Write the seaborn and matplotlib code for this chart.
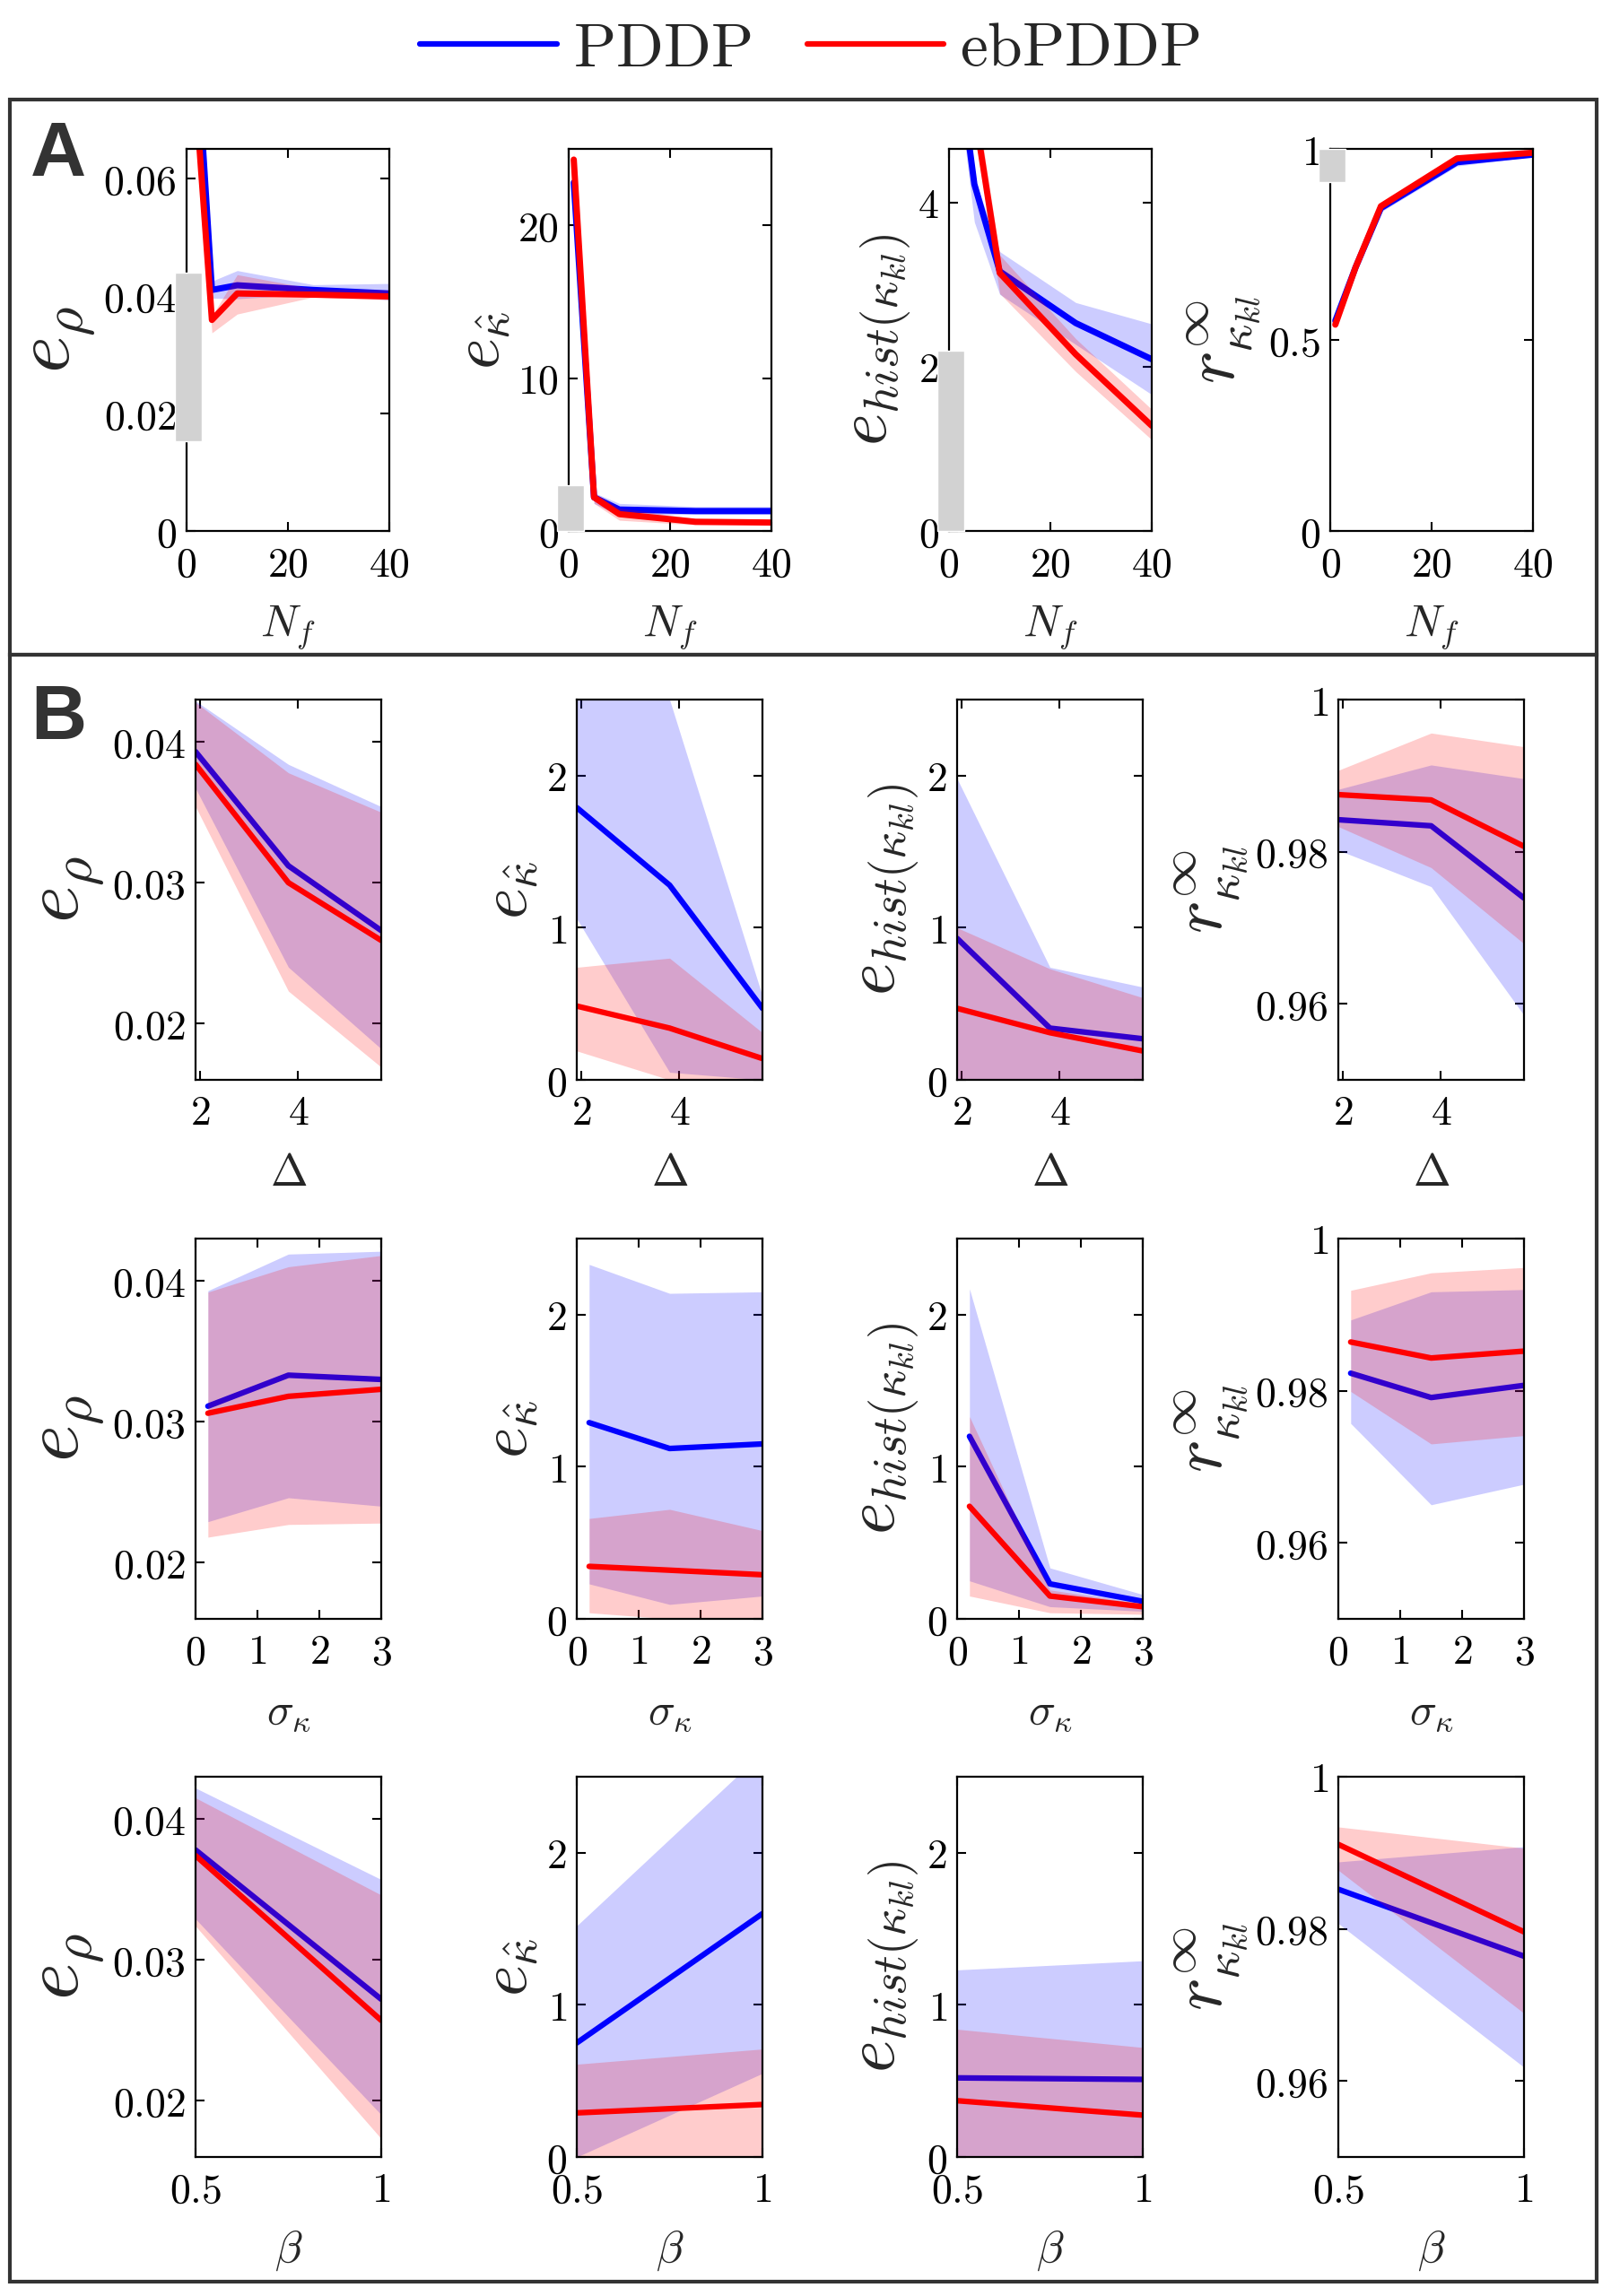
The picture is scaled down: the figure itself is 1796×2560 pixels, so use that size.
import matplotlib
matplotlib.use("Agg")
import matplotlib.pyplot as plt
from matplotlib.lines import Line2D
from matplotlib.patches import Rectangle
import seaborn as sns

# ---------------- data ----------------
NF = [1, 5, 10, 25, 40]
DELTA = [1.9, 3.8, 5.7]
SIGMA = [0.2, 1.5, 3.0]
BETA = [0.5, 1.0]

# row A, one list per column: e_rho, e_kappa_hat, e_hist, r
A_PDDP = [[0.096, 0.041, 0.0418, 0.041, 0.0404],
          [22.8, 2.2, 1.4, 1.3, 1.3],
          [6.1, 4.22, 3.16, 2.53, 2.09],
          [0.55, 0.69, 0.845, 0.965, 0.985]]
A_PDDP_LO = [[0.094, 0.0396, 0.0395, 0.0403, 0.0393],
             [22.3, 1.8, 1.0, 1.1, 1.1],
             [5.8, 3.76, 2.88, 2.27, 1.66],
             [0.54, 0.68, 0.835, 0.955, 0.98]]
A_PDDP_HI = [[0.098, 0.0425, 0.0443, 0.0419, 0.0421],
             [23.3, 2.5, 1.8, 1.6, 1.6],
             [6.4, 4.3, 3.40, 2.78, 2.52],
             [0.56, 0.70, 0.855, 0.975, 0.99]]
A_EB = [[0.0836, 0.0359, 0.0404, 0.0402, 0.0399],
        [24.3, 2.2, 1.1, 0.6, 0.55],
        [8.0, 5.12, 3.14, 2.15, 1.28],
        [0.54, 0.69, 0.85, 0.975, 0.99]]
A_EB_LO = [[0.081, 0.0337, 0.0369, 0.0398, 0.0393],
           [23.8, 1.8, 0.7, 0.4, 0.4],
           [7.6, 4.9, 2.89, 1.94, 1.11],
           [0.53, 0.68, 0.84, 0.97, 0.985]]
A_EB_HI = [[0.086, 0.0366, 0.0436, 0.0412, 0.0410],
           [24.8, 2.5, 1.5, 0.8, 0.7],
           [8.4, 5.4, 3.36, 2.34, 1.48],
           [0.55, 0.70, 0.86, 0.98, 0.995]]
# grey reference bars near N_f = 0 (bottom, top)
A_GREY = [(0.0152, 0.044), (0.0, 3.0), (0.0, 2.19), (0.914, 1.0)]

# row B1: Delta
B1_PDDP = [[0.0393, 0.0312, 0.0266], [1.79, 1.28, 0.47],
           [0.93, 0.34, 0.27], [0.9842, 0.9834, 0.9739]]
B1_PDDP_LO = [[0.0367, 0.0240, 0.0182], [1.06, 0.05, 0.0],
              [0.0, 0.0, 0.0], [0.9802, 0.9754, 0.9585]]
B1_PDDP_HI = [[0.0429, 0.0384, 0.0354], [2.9, 2.5, 0.55],
              [1.98, 0.74, 0.61], [0.9882, 0.9914, 0.9896]]
B1_EB = [[0.0384, 0.0300, 0.0259], [0.485, 0.34, 0.14],
         [0.47, 0.31, 0.19], [0.9875, 0.9868, 0.9807]]
B1_EB_LO = [[0.0354, 0.0223, 0.0169], [0.19, 0.0, 0.0],
            [0.0, 0.0, 0.0], [0.9833, 0.9779, 0.9679]]
B1_EB_HI = [[0.0428, 0.0378, 0.0350], [0.74, 0.80, 0.31],
            [1.0, 0.73, 0.54], [0.9907, 0.9956, 0.9938]]

# row B2: sigma_kappa
B2_PDDP = [[0.0311, 0.0333, 0.0330], [1.29, 1.12, 1.15],
           [1.20, 0.23, 0.115], [0.9823, 0.9791, 0.9807]]
B2_PDDP_LO = [[0.0229, 0.0246, 0.0240], [0.23, 0.095, 0.15],
              [0.25, 0.08, 0.05], [0.9757, 0.9650, 0.9677]]
B2_PDDP_HI = [[0.0393, 0.0419, 0.0421], [2.33, 2.14, 2.15],
              [2.17, 0.335, 0.16], [0.9893, 0.9930, 0.9933]]
B2_EB = [[0.0306, 0.0318, 0.0323], [0.345, 0.32, 0.29],
         [0.74, 0.15, 0.08], [0.9864, 0.9843, 0.9852]]
B2_EB_LO = [[0.0218, 0.0227, 0.0228], [0.04, 0.0, 0.0],
            [0.15, 0.04, 0.03], [0.9799, 0.9730, 0.9741]]
B2_EB_HI = [[0.0392, 0.0410, 0.0418], [0.66, 0.72, 0.58],
            [1.33, 0.19, 0.10], [0.9932, 0.9955, 0.9962]]

# row B3: beta
B3_PDDP = [[0.0378, 0.0272], [0.75, 1.60], [0.52, 0.51], [0.9852, 0.9764]]
B3_PDDP_LO = [[0.0329, 0.0190], [0.0, 0.55], [0.0, 0.0], [0.9807, 0.9618]]
B3_PDDP_HI = [[0.0422, 0.0357], [1.52, 2.66], [1.23, 1.29], [0.9888, 0.9908]]
B3_EB = [[0.0374, 0.0257], [0.29, 0.345], [0.37, 0.275], [0.9911, 0.9796]]
B3_EB_LO = [[0.0324, 0.0173], [0.0, 0.0], [0.0, 0.0], [0.9877, 0.9689]]
B3_EB_HI = [[0.0415, 0.0346], [0.61, 0.71], [0.84, 0.72], [0.9934, 0.9906]]

YLABELS = [r"$e_\rho$", r"$e_{\hat{\kappa}}$",
           r"$e_{hist(\kappa_{kl})}$", r"$r_{\kappa_{kl}}^{\infty}$"]
YLABEL_SIZES = [64, 54, 56, 56]
A_YTICKS = [[0, 0.02, 0.04, 0.06], [0, 10, 20], [0, 2, 4], [0, 0.5, 1]]
A_YTICKLABELS = [["0", "0.02", "0.04", "0.06"], ["0", "10", "20"],
                 ["0", "2", "4"], ["0", "0.5", "1"]]
A_YLIM = [(0, 0.065), (0, 25), (0, 4.65), (0, 1.0)]
B_YTICKS = [[0.02, 0.03, 0.04], [0, 1, 2], [0, 1, 2], [0.96, 0.98, 1]]
B_YTICKLABELS = [["0.02", "0.03", "0.04"], ["0", "1", "2"],
                 ["0", "1", "2"], ["0.96", "0.98", "1"]]
B_YLIM = [(0.016, 0.043), (0, 2.5), (0, 2.5), (0.95, 1.0)]

BLUE = "#0000ff"
RED = "#ff0000"

sns.set_theme(style="ticks")
plt.rcParams["font.family"] = ["DejaVu Sans"]
plt.rcParams["mathtext.fontset"] = "cm"

W, H = 1796, 2560
fig = plt.figure(figsize=(W / 100, H / 100), dpi=100)


def px_axes(left, top, width, height):
    return fig.add_axes([left / W, 1 - (top + height) / H, width / W, height / H])


def panel(ax, x, pm, plo, phi, em, elo, ehi, lw):
    # draw order matters: the red band tints the blue line where they overlap
    ax.fill_between(x, plo, phi, color=BLUE, alpha=0.2, lw=0, zorder=1)
    sns.lineplot(x=x, y=pm, ax=ax, color=BLUE, lw=lw, zorder=2)
    ax.fill_between(x, elo, ehi, color=RED, alpha=0.2, lw=0, zorder=3)
    sns.lineplot(x=x, y=em, ax=ax, color=RED, lw=lw, zorder=4)


def style(ax, xticks, xticklabels, yticks, yticklabels, xlabel, col):
    ax.set_xticks(xticks, [f"${t}$" for t in xticklabels])
    ax.set_yticks(yticks, [f"${t}$" for t in yticklabels])
    ax.tick_params(direction="in", top=True, right=True, length=7, width=1.5,
                   labelsize=33, pad=8, colors="black")
    ax.tick_params(axis="x", pad=11)
    for s in ax.spines.values():
        s.set_linewidth(1.6)
        s.set_color("black")
        s.set_zorder(6)
    ax.set_xlabel(xlabel, fontsize=36, labelpad=14)
    ax.set_ylabel(YLABELS[col], fontsize=YLABEL_SIZES[col], labelpad=4)


# ---------------- row A ----------------
A_LEFTS = [208, 634, 1058, 1483]
for c in range(4):
    ax = px_axes(A_LEFTS[c], 166, 226, 426)
    panel(ax, NF, A_PDDP[c], A_PDDP_LO[c], A_PDDP_HI[c],
          A_EB[c], A_EB_LO[c], A_EB_HI[c], lw=5)
    lo, hi = A_GREY[c]
    ax.bar(0.3, hi - lo, bottom=lo, width=5.3, color="#d2d2d2",
           clip_on=False, zorder=7)
    ax.set_xlim(0, 40)
    ax.set_ylim(*A_YLIM[c])
    style(ax, [0, 20, 40], ["0", "20", "40"], A_YTICKS[c], A_YTICKLABELS[c],
          r"$N_f$", c)

# ---------------- rows B ----------------
B_LEFTS = [218, 643, 1067, 1492]
B_ROWS = [
    (780, DELTA, (1.9, 5.7), [2, 4], ["2", "4"], r"$\Delta$",
     B1_PDDP, B1_PDDP_LO, B1_PDDP_HI, B1_EB, B1_EB_LO, B1_EB_HI),
    (1381, SIGMA, (0, 3), [0, 1, 2, 3], ["0", "1", "2", "3"], r"$\sigma_\kappa$",
     B2_PDDP, B2_PDDP_LO, B2_PDDP_HI, B2_EB, B2_EB_LO, B2_EB_HI),
    (1981, BETA, (0.5, 1), [0.5, 1], ["0.5", "1"], r"$\beta$",
     B3_PDDP, B3_PDDP_LO, B3_PDDP_HI, B3_EB, B3_EB_LO, B3_EB_HI),
]
for top, x, xlim, xt, xtl, xlab, pm, plo, phi, em, elo, ehi in B_ROWS:
    for c in range(4):
        ax = px_axes(B_LEFTS[c], top, 207, 424)
        panel(ax, x, pm[c], plo[c], phi[c], em[c], elo[c], ehi[c], lw=4.5)
        ax.set_xlim(*xlim)
        ax.set_ylim(*B_YLIM[c])
        style(ax, xt, xtl, B_YTICKS[c], B_YTICKLABELS[c], xlab, c)

# ---------------- frames, panel letters, legend ----------------
fig.add_artist(Rectangle((11 / W, 1 - 730 / H), 1769 / W, 619 / H,
                         transform=fig.transFigure, fill=False,
                         lw=3, edgecolor="#333333"))
fig.add_artist(Rectangle((11 / W, 1 - 2544 / H), 1769 / W, 1814 / H,
                         transform=fig.transFigure, fill=False,
                         lw=3, edgecolor="#333333"))
fig.text(34 / W, 1 - 196 / H, "A", fontsize=62, fontweight="bold",
         color="#333333", family="Liberation Sans", va="baseline")
fig.text(34 / W, 1 - 824 / H, "B", fontsize=62, fontweight="bold",
         color="#333333", family="Liberation Sans", va="baseline")

handles = [Line2D([], [], color=BLUE, lw=4.5), Line2D([], [], color=RED, lw=4.5)]
fig.legend(handles, [r"$\mathrm{PDDP}$", r"$\mathrm{ebPDDP}$"],
           loc="center", bbox_to_anchor=(903 / W, 1 - 54 / H), ncol=2,
           frameon=False, fontsize=50, handlelength=2.2, handletextpad=0.25,
           columnspacing=0.9)

fig.savefig("out.png", dpi=100, facecolor="white")
